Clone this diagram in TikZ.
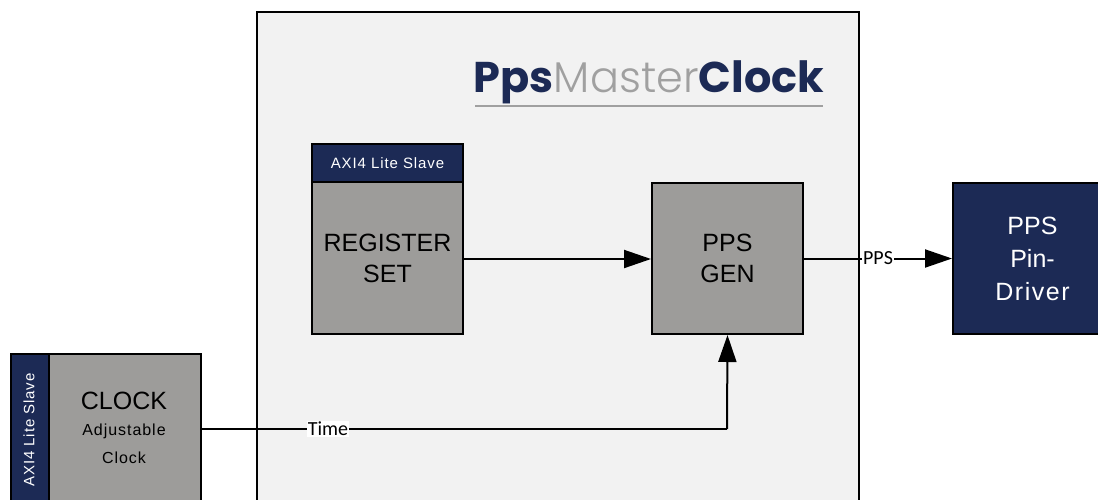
\documentclass[tikz,border=0pt]{standalone}
\usepackage{fontspec}
\setmainfont{Liberation Sans}
\newfontfamily\titlefont{Poppins}
\newfontfamily\titlelight{Poppins Light}
\newfontfamily\lblfont{Carlito}
\newfontfamily\spacedfont[LetterSpace=6]{Liberation Sans}
\usetikzlibrary{arrows.meta}
\definecolor{navy}{HTML}{1C2A55}
\definecolor{boxgray}{HTML}{9D9C9A}
\definecolor{bggray}{HTML}{F2F2F2}
\definecolor{titlegray}{HTML}{A0A0A0}
\tikzset{
  blk/.style={draw=black, line width=2pt, fill=boxgray, align=center, inner sep=0pt, text=black},
  navyblk/.style={draw=black, line width=2pt, fill=navy, align=center, inner sep=0pt, text=white},
  conn/.style={line width=2pt, -{Triangle[length=27pt,width=18pt]}},
  lbl/.style={fill=white, inner sep=1pt, font=\lblfont\fontsize{20}{20}\selectfont}
}
\begin{document}
\begin{tikzpicture}[x=1pt,y=-1pt]
\useasboundingbox (0,0) rectangle (1098,499);
\clip (0,0) rectangle (1098,499);
% main container
\draw[line width=2pt, fill=bggray] (257,12) rectangle (859,540);
\node[inner sep=0pt, anchor=base] (title) at (649,92) {\fontsize{43}{43}\selectfont\color{navy}\titlefont\textbf{Pps}\color{titlegray}\titlelight Master\color{navy}\titlefont\textbf{Clock}};
\draw[titlegray, line width=1.5pt] (475,106) -- (823,106);
% register set
\node[navyblk, minimum width=151pt, minimum height=38pt, font=\spacedfont\fontsize{15}{15}\selectfont] (regh) at (387.5,163) {AXI4 Lite Slave};
\node[blk, minimum width=151pt, minimum height=152pt, font=\fontsize{25}{31}\selectfont] (reg) at (387.5,258) {REGISTER\\SET};
% pps gen
\node[blk, minimum width=151pt, minimum height=151pt, font=\fontsize{25}{31}\selectfont] (gen) at (727.5,258.5) {PPS\\GEN};
% pin driver
\node[navyblk, minimum width=159pt, minimum height=151pt, font=\fontsize{25}{33}\selectfont] (drv) at (1032.5,258.5) {PPS\\Pin-\\{\spacedfont Driver}};
% clock
\node[navyblk, minimum width=38pt, minimum height=190pt, anchor=north west] (clkside) at (10,353) {};
\node[text=white, rotate=90, font=\spacedfont\fontsize{15}{15}\selectfont] (clkaxi) at (29,430) {AXI4 Lite Slave};
\node[blk, minimum width=152pt, minimum height=190pt, anchor=north west] (clk) at (48,353) {};
\node[font=\fontsize{25}{25}\selectfont] (clkt) at (124,401) {CLOCK};
\node[font=\spacedfont\fontsize{16}{28}\selectfont, align=center, anchor=north] (clks) at (124,420) {Adjustable\\Clock};
% connectors
\coordinate (tc) at (727,429);
\draw[conn] (reg.east |- 0,259) -- (gen.west |- 0,259);
\draw[conn] (gen.east) -- node[lbl, pos=0.5] {PPS} (drv.west);
\draw[line width=2pt] (clk.east |- tc) -- node[lbl, pos=0.24] {Time} (tc);
\draw[conn] (tc) -- (gen.south);
\end{tikzpicture}
\end{document}
